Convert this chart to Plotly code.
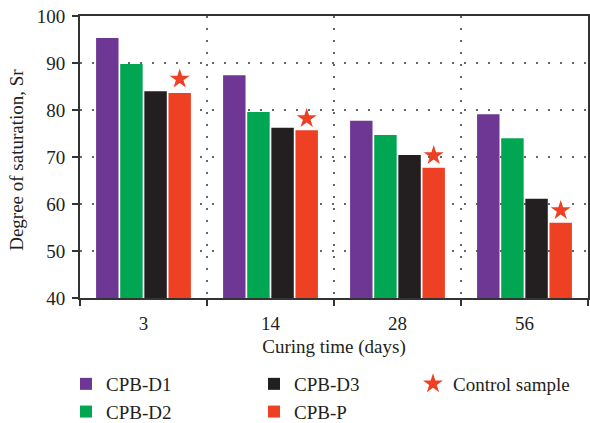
import plotly.graph_objects as go

categories = ["3", "14", "28", "56"]
series_names = ["CPB-D1", "CPB-D2", "CPB-D3", "CPB-P"]
cpb_d1 = [95.3, 87.4, 77.7, 79.1]
cpb_d2 = [89.8, 79.6, 74.7, 74.0]
cpb_d3 = [84.0, 76.2, 70.4, 61.1]
cpb_p = [83.6, 75.7, 67.7, 56.0]
control = [86.6, 78.2, 70.3, 58.6]
y_ticks = [40, 50, 60, 70, 80, 90, 100]

colors = ["#6E3794", "#00A651", "#231F20", "#EE4124"]
FONT = "Liberation Serif"
xpos = list(range(len(categories)))

fig = go.Figure()
legends = ["legend", "legend", "legend2", "legend2"]
for name, vals, col, lg in zip(series_names, [cpb_d1, cpb_d2, cpb_d3, cpb_p], colors, legends):
    fig.add_trace(go.Bar(x=xpos, y=vals, name=name, marker=dict(color=col, line=dict(width=0)),
                         legend=lg))

# star over CPB-P bar center (4th of 4 slots in group)
bargap = 0.24
slot = (1 - bargap) / 4
star_off = -(1 - bargap) / 2 + slot * 3.5
fig.add_trace(go.Scatter(x=[p + star_off for p in xpos], y=control, mode="markers",
                         name="Control sample", legend="legend3",
                         marker=dict(symbol="star", size=15, color="#EE4124", line=dict(width=0))))

leg_common = dict(xref="container", yref="container", y=1 - 365 / 423, xanchor="left",
                  yanchor="top", orientation="v", font=dict(size=19),
                  bgcolor="rgba(0,0,0,0)", itemwidth=30, tracegroupgap=0)
fig.update_layout(
    width=590, height=423,
    margin=dict(l=80, r=2, t=16, b=125, autoexpand=False),
    barmode="group", bargap=bargap, bargroupgap=0.07,
    plot_bgcolor="white", paper_bgcolor="white",
    font=dict(family=FONT, size=19, color="#231F20"),
    legend=dict(x=66 / 590, **leg_common),
    legend2=dict(x=254 / 590, **leg_common),
    legend3=dict(x=413 / 590, **leg_common),
    annotations=[dict(text="Degree of saturation, Sr", textangle=-90,
                      xref="paper", yref="paper", x=(17 - 80) / 508, y=0.49,
                      xanchor="center", yanchor="middle", showarrow=False,
                      font=dict(size=19))],
)

fig.update_xaxes(
    range=[-0.5, 3.5], tickmode="array", tickvals=xpos, ticktext=categories,
    ticks="", showgrid=False, showline=True, linecolor="#333333", linewidth=2, mirror=True,
    zeroline=False, ticklabelstandoff=7,
    minor=dict(tickmode="array", tickvals=[-0.5, 0.5, 1.5, 2.5, 3.5], ticks="outside",
               ticklen=6, tickcolor="#333333", tickwidth=1.5,
               showgrid=True, gridcolor="#666666", gridwidth=1.5, griddash="2px,10px"),
    title=dict(text="Curing time (days)", font=dict(size=19), standoff=7),
)
fig.update_yaxes(
    range=[40, 100], tickmode="array", tickvals=y_ticks,
    ticks="outside", ticklen=6, tickcolor="#333333", tickwidth=1.5,
    showline=True, linecolor="#333333", linewidth=2, mirror=True, zeroline=False,
    showgrid=True, gridcolor="#666666", gridwidth=1.5, griddash="2px,10px",
    ticklabelstandoff=3,
)

fig.write_html("out.html")
